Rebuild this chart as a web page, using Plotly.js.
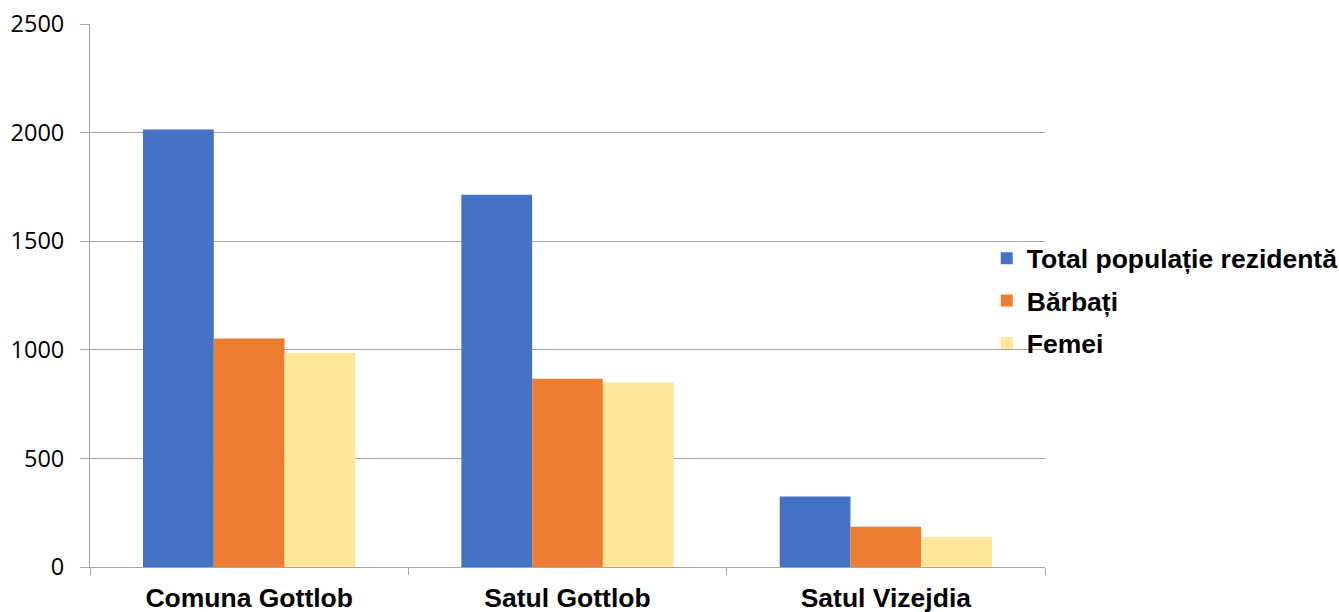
<!DOCTYPE html>
<html>
<head>
<meta charset="utf-8">
<script src="https://cdn.plot.ly/plotly-3.0.1.min.js"></script>
<style>html,body{margin:0;padding:0;background:#fff;}#chart{width:1339px;height:612px;}</style>
</head>
<body>
<div id="chart"></div>
<script>
const categories = ["Comuna Gottlob", "Satul Gottlob", "Satul Vizejdia"];
const seriesNames = ["Total populație rezidentă", "Bărbați", "Femei"];
const totalValues = [2014, 1714, 325];
const barbatiValues = [1052, 867, 185];
const femeiValues = [985, 849, 138];
const yTickValues = [0, 500, 1000, 1500, 2000, 2500];
const colors = ["#4472C4", "#ED7D31", "#FFE699"];

const seriesValues = [totalValues, barbatiValues, femeiValues];
const traces = seriesValues.map((vals, i) => ({
  type: "bar",
  name: seriesNames[i],
  x: categories,
  y: vals,
  marker: {color: colors[i]},
  legendgroup: "g" + i,
  hoverinfo: "x+y+name"
}));

const layout = {
  width: 1339,
  height: 612,
  margin: {l: 90, r: 294, t: 24, b: 44.5, pad: 0, autoexpand: false},
  paper_bgcolor: "#ffffff",
  plot_bgcolor: "#ffffff",
  barmode: "group",
  bargap: 0.333,
  bargroupgap: 0,
  font: {family: "Liberation Sans, Arial, sans-serif", color: "#000"},
  xaxis: {
    type: "category",
    automargin: false,
    showline: true,
    linecolor: "#a6a6a6",
    linewidth: 1,
    ticks: "outside",
    tickson: "boundaries",
    ticklen: 7,
    tickcolor: "#a6a6a6",
    showgrid: false,
    tickfont: {family: "Liberation Sans, Arial, sans-serif", size: 26.5, color: "#000", weight: "bold"},
    ticklabelstandoff: 7
  },
  yaxis: {
    range: [0, 2500],
    automargin: false,
    tickvals: yTickValues,
    ticktext: yTickValues.map(String),
    showline: true,
    linecolor: "#a6a6a6",
    linewidth: 1,
    ticks: "outside",
    ticklen: 9,
    tickcolor: "#a6a6a6",
    showgrid: true,
    gridcolor: "#a6a6a6",
    gridwidth: 1,
    zeroline: false,
    tickfont: {family: "Open Sans, Noto Sans, sans-serif", size: 23.5, color: "#000"},
    ticklabelstandoff: 11
  },
  legend: {
    x: 0.939, xanchor: "left",
    y: 0.49, yanchor: "middle",
    font: {family: "Liberation Sans, Arial, sans-serif", size: 26.5, color: "#000", weight: "bold"},
    tracegroupgap: 5,
    itemwidth: 30,
    bgcolor: "rgba(0,0,0,0)"
  },
  showlegend: true
};

Plotly.newPlot("chart", traces, layout, {displayModeBar: false, staticPlot: true});
</script>
</body>
</html>
